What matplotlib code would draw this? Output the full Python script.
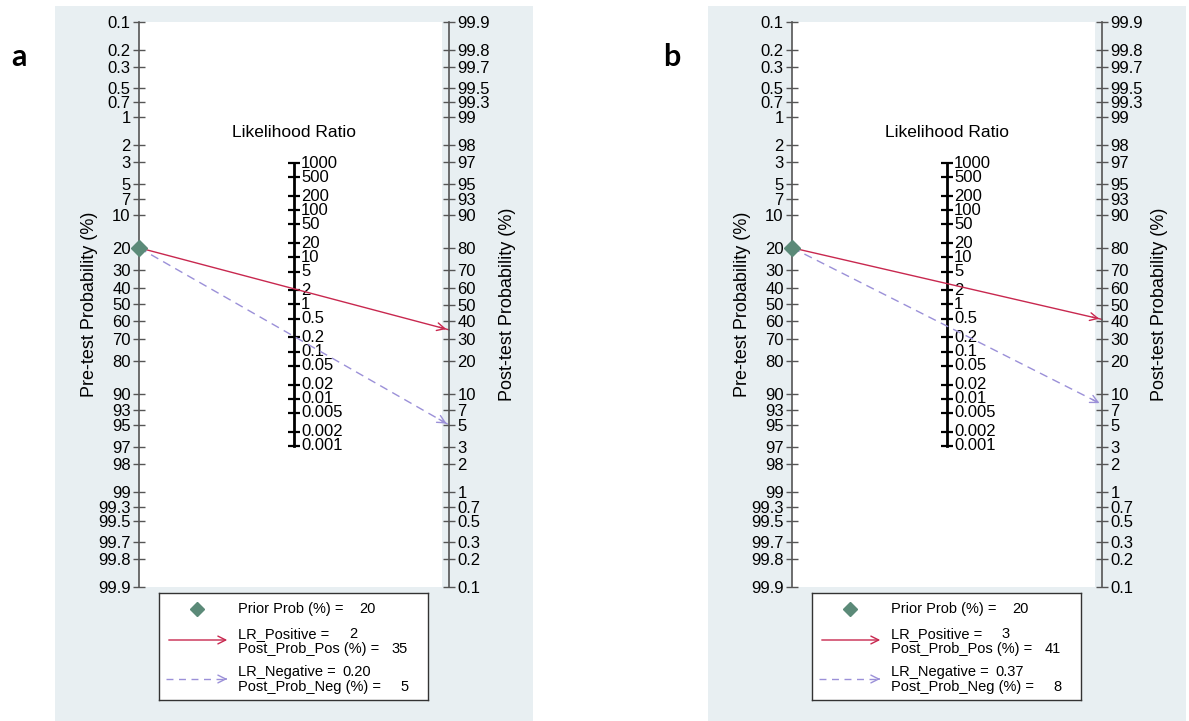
import numpy as np
import matplotlib
matplotlib.use('Agg')
from matplotlib import pyplot as plt
from matplotlib.patches import Rectangle

plt.rcParams['font.family'] = ['Liberation Sans', 'DejaVu Sans']

# chart data
panels = ['a', 'b']
prior_prob = [20, 20]
lr_pos = [2, 3]
post_pos = [35, 41]
lr_neg = [0.20, 0.37]
post_neg = [5, 8]

prob_ticks = [0.1, 0.2, 0.3, 0.5, 0.7, 1, 2, 3, 5, 7, 10, 20, 30, 40, 50, 60,
              70, 80, 90, 93, 95, 97, 98, 99, 99.3, 99.5, 99.7, 99.8, 99.9]
lr_ticks = [1000, 500, 200, 100, 50, 20, 10, 5, 2, 1, 0.5, 0.2, 0.1, 0.05,
            0.02, 0.01, 0.005, 0.002, 0.001]

W, H = 1189, 721
BG = '#e8eff2'
RED = '#c8284f'
LAV = '#9b90d8'
DIAM = '#5b8a78'
AXC = '#555555'


def logit(p):
    p = np.asarray(p, dtype=float)
    return np.log(p / (1 - p))


def box(x0, y0, x1, y1):
    return [x0 / W, 1 - y1 / H, (x1 - x0) / W, (y1 - y0) / H]


def arrow_line(ax, x0, y0, x1, y1, c, ls):
    ax.plot([x0, x1], [y0, y1], color=c, lw=1, ls=ls, dashes=(6, 4) if ls == '--' else (None, None),
            clip_on=False, zorder=4)
    f = 0.96
    ax.annotate('', xy=(x1, y1), xytext=(x0 + f * (x1 - x0), y0 + f * (y1 - y0)),
                arrowprops=dict(arrowstyle='->', color=c, lw=1, mutation_scale=14),
                annotation_clip=False, zorder=5)


fig = plt.figure(figsize=(W / 100, H / 100), dpi=100)
lim = float(logit(0.999))

for i, name in enumerate(panels):
    dx = i * 653
    xl, xr = 139 + dx, 449 + dx
    fig.add_artist(Rectangle((55 + dx, 0), 478, 715, transform=None, facecolor=BG,
                             edgecolor='none', zorder=0))
    fig.text((19 + dx) / W, 1 - 57 / H, name, fontsize=22, fontweight='bold',
             family='Lato', ha='center', va='center')

    ax = fig.add_axes(box(xl, 22, xr - 7, 587))
    ax.set_facecolor('white')
    ax.set_xlim(0, 303 / 310)
    ax.set_ylim(-lim, lim)
    ax.set_xticks([])
    for s in ['top', 'bottom', 'right']:
        ax.spines[s].set_visible(False)
    ax.spines['left'].set_color(AXC)
    ax.spines['left'].set_linewidth(1.2)
    ax.set_yticks(-logit(np.array(prob_ticks) / 100))
    ax.set_yticklabels(['%g' % p for p in prob_ticks])
    ax.tick_params(axis='y', direction='inout', length=8, width=1, color=AXC,
                   labelsize=12, pad=2)

    ax2 = ax.twinx()
    ax2.set_ylim(-lim, lim)
    for s in ['top', 'bottom', 'left']:
        ax2.spines[s].set_visible(False)
    ax2.spines['right'].set_position(('axes', 310 / 303))
    ax2.spines['right'].set_color(AXC)
    ax2.spines['right'].set_linewidth(1.2)
    ax2.set_yticks(logit(np.array(prob_ticks) / 100))
    ax2.set_yticklabels(['%g' % p for p in prob_ticks])
    ax2.tick_params(axis='y', direction='inout', length=8, width=1, color=AXC,
                    labelsize=12, pad=2)

    # likelihood ratio scale in the middle
    lr_y = np.log(lr_ticks) / 2
    ax.plot([0.5, 0.5], [lr_y.min(), lr_y.max()], color='k', lw=2, zorder=3)
    ax.plot(np.full(len(lr_y), 0.5), lr_y, ls='none', marker='_', ms=9, mew=1.6,
            color='k', zorder=3)
    for v, y in zip(lr_ticks, lr_y):
        ax.annotate('%g' % v, (0.5, y), xytext=(5, 0), textcoords='offset points',
                    va='center', ha='left', fontsize=12)
    ax.text(0.5, lim - 2 * (133 - 22) * lim / 565, 'Likelihood Ratio',
            ha='center', va='center', fontsize=12.5)

    # fagan lines
    y0 = -logit(prior_prob[i] / 100)
    arrow_line(ax, 0, y0, 1, logit(post_pos[i] / 100), RED, '-')
    arrow_line(ax, 0, y0, 1, logit(post_neg[i] / 100), LAV, '--')
    ax.plot([0], [y0], marker='D', ms=8, color=DIAM, clip_on=False, zorder=6)

    fig.text((xl - 49) / W, 1 - 304.5 / H, 'Pre-test Probability (%)', rotation=90,
             ha='center', va='center', fontsize=13)
    fig.text((xr + 58) / W, 1 - 304.5 / H, 'Post-test Probability (%)', rotation=90,
             ha='center', va='center', fontsize=13)

    # legend box
    lg = fig.add_axes(box(159 + dx, 593, 428 + dx, 700))
    lg.set_xlim(0, 269)
    lg.set_ylim(107, 0)
    lg.set_xticks([])
    lg.set_yticks([])
    for s in lg.spines.values():
        s.set_color('#333333')
        s.set_linewidth(1)
    fs = 10.5
    lg.plot([38], [16], marker='D', ms=7.5, color=DIAM)
    lg.text(79, 16, 'Prior Prob (%) =', va='center', fontsize=fs)
    lg.text(217, 16, '%.0f' % prior_prob[i], va='center', ha='right', fontsize=fs)
    lg.annotate('', xy=(71, 47), xytext=(7, 47),
                arrowprops=dict(arrowstyle='->', color=RED, lw=1, mutation_scale=14))
    lg.text(79, 41, 'LR_Positive =', va='center', fontsize=fs)
    lg.text(198, 41, '%.0f' % lr_pos[i], va='center', ha='right', fontsize=fs)
    lg.text(79, 56, 'Post_Prob_Pos (%) =', va='center', fontsize=fs)
    lg.text(249, 56, '%.0f' % post_pos[i], va='center', ha='right', fontsize=fs)
    lg.plot([7, 66], [86, 86], color=LAV, lw=1, dashes=(5, 4))
    lg.annotate('', xy=(71, 86), xytext=(64, 86),
                arrowprops=dict(arrowstyle='->', color=LAV, lw=1, mutation_scale=14))
    lg.text(79, 79, 'LR_Negative =', va='center', fontsize=fs)
    lg.text(212, 79, '%.2f' % lr_neg[i], va='center', ha='right', fontsize=fs)
    lg.text(79, 94, 'Post_Prob_Neg (%) =', va='center', fontsize=fs)
    lg.text(250, 94, '%.0f' % post_neg[i], va='center', ha='right', fontsize=fs)

plt.savefig('out.png', dpi=100)
